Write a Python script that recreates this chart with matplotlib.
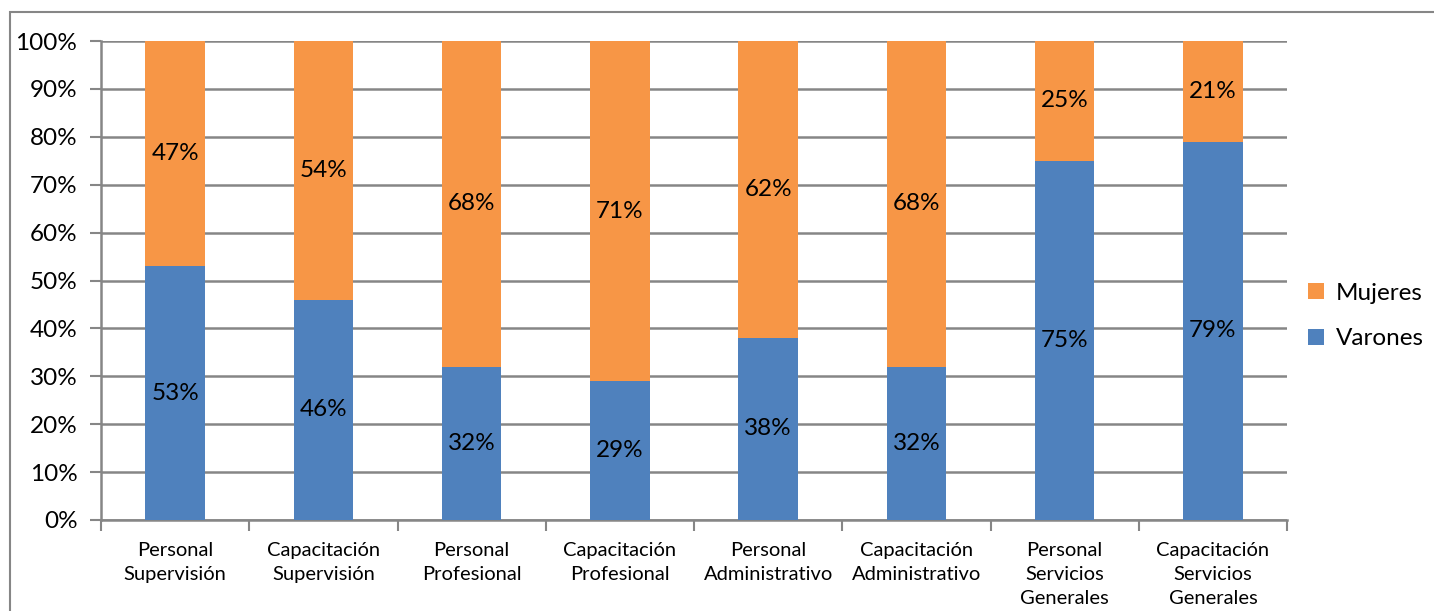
import matplotlib
matplotlib.use("Agg")
import matplotlib.pyplot as plt
from matplotlib.patches import Rectangle
import numpy as np

plt.rcParams['font.family'] = ['Lato', 'DejaVu Sans']

categories = [
    "Personal\nSupervisión",
    "Capacitación\nSupervisión",
    "Personal\nProfesional",
    "Capacitación\nProfesional",
    "Personal\nAdministrativo",
    "Capacitación\nAdministrativo",
    "Personal\nServicios\nGenerales",
    "Capacitación\nServicios\nGenerales",
]
varones = [53, 46, 32, 29, 38, 32, 75, 79]
mujeres = [47, 54, 68, 71, 62, 68, 25, 21]
y_ticks = [0, 10, 20, 30, 40, 50, 60, 70, 80, 90, 100]

blue = "#4F81BD"
orange = "#F79646"
grid_col = "#868686"

W, H = 1434, 611
fig = plt.figure(figsize=(W / 100, H / 100), dpi=100)
ax = fig.add_axes([101 / W, 1 - 520 / H, (1287 - 101) / W, (520 - 41) / H])

# outer chart-area border (runs off the right and bottom edges)
top = 1 - 12 / H
fig.patches.append(Rectangle((10 / W, -0.2), 1.2, top + 0.2,
                             transform=fig.transFigure, fill=False,
                             edgecolor=grid_col, linewidth=1.5, zorder=0))

x = np.arange(len(categories))
width = 0.4
b1 = ax.bar(x, varones, width, color=blue, label="Varones", zorder=3)
b2 = ax.bar(x, mujeres, width, bottom=varones, color=orange, label="Mujeres", zorder=3)

for i in range(len(categories)):
    ax.text(x[i], varones[i] / 2, f"{varones[i]}%", ha="center", va="center",
            fontsize=17.5, color="black", zorder=4)
    ax.text(x[i], varones[i] + mujeres[i] / 2, f"{mujeres[i]}%", ha="center",
            va="center", fontsize=17.5, color="black", zorder=4)

ax.set_xlim(-0.5, len(categories) - 0.5)
ax.set_ylim(0, 100)
ax.set_yticks(y_ticks)
ax.set_yticklabels([f"{v}%" for v in y_ticks], fontsize=17.5)
ax.yaxis.grid(True, color=grid_col, linewidth=1.8, zorder=0)
ax.set_axisbelow(True)

ax.set_xticks(np.arange(len(categories) + 1) - 0.5, minor=False)
ax.set_xticklabels([])
ax.set_xticks(x, minor=True)
ax.set_xticklabels(categories, minor=True, fontsize=14.5, linespacing=1.5)
ax.tick_params(axis="x", which="major", length=8, width=1.5, color=grid_col)
ax.tick_params(axis="x", which="minor", length=0, pad=16)
ax.tick_params(axis="y", length=8, width=1.5, color=grid_col, pad=9)

for s in ["top", "right"]:
    ax.spines[s].set_visible(False)
for s in ["left", "bottom"]:
    ax.spines[s].set_color(grid_col)
    ax.spines[s].set_linewidth(1.8)

handles = [b2, b1]
fig.legend(handles, ["Mujeres", "Varones"], loc="center left",
           bbox_to_anchor=(1286 / W, 1 - 316 / H), frameon=False,
           fontsize=17.5, handlelength=0.65, handleheight=0.65,
           handletextpad=0.5, labelspacing=1.0)

fig.savefig("out.png", dpi=100)
